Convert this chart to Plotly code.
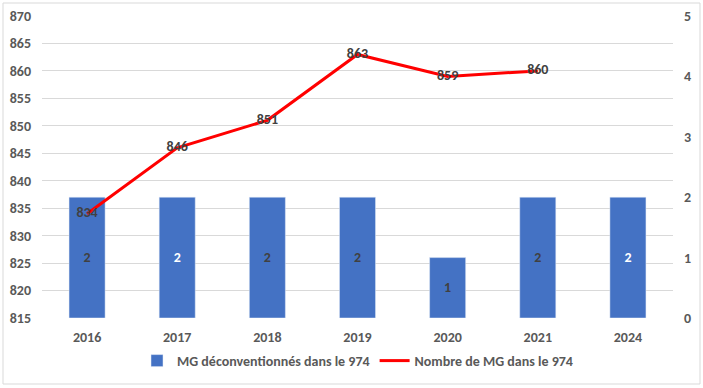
import plotly.graph_objects as go

years = ["2016", "2017", "2018", "2019", "2020", "2021", "2024"]
mg_deconv = [2, 2, 2, 2, 1, 2, 2]
mg_total = [834, 846, 851, 863, 859, 860, None]
bar_label_colors = ["#404040", "#FFFFFF", "#404040", "#404040", "#404040", "#404040", "#FFFFFF"]

FONT = "Carlito, Lato, 'Liberation Sans', sans-serif"
GRAY = "#595959"

fig = go.Figure()
fig.add_trace(go.Bar(
    x=years, y=mg_deconv, name="MG déconventionnés dans le 974",
    marker_color="#4472C4", width=0.4, yaxis="y",
    text=[str(v) for v in mg_deconv], textposition="inside", insidetextanchor="middle",
    textfont=dict(color=bar_label_colors, size=14, family=FONT, weight="bold"),
    textangle=0,
))
fig.add_trace(go.Scatter(
    x=years, y=mg_total, name="Nombre de MG dans le 974",
    mode="lines+text", line=dict(color="#FF0000", width=3), yaxis="y2",
    text=[str(v) if v is not None else "" for v in mg_total], textposition="middle center",
    textfont=dict(color="#404040", size=14, family=FONT, weight="bold"),
))

W, H = 703, 388
l, r, t, b = 42, 30, 16, 70
pw, ph = W - l - r, H - t - b

def px(x):
    return (x - l) / pw

def py(y):
    return (H - b - y) / ph

tf = dict(size=14, color=GRAY, family=FONT, weight="bold")

fig.update_layout(
    width=W, height=H,
    margin=dict(l=l, r=r, t=t, b=b, autoexpand=False),
    paper_bgcolor="white", plot_bgcolor="white",
    font=dict(family=FONT, color=GRAY, size=14),
    bargap=0.6,
    xaxis=dict(type="category", showgrid=False, showline=False, ticks="",
               automargin=False, tickfont=tf, ticklabelstandoff=9),
    yaxis=dict(side="right", range=[0, 5], dtick=1, showgrid=False, zeroline=False,
               showline=False, ticks="", ticklabelstandoff=10, automargin=False,
               tickfont=tf),
    yaxis2=dict(side="left", overlaying="y", range=[815, 870], dtick=5,
                showgrid=True, gridcolor="#D9D9D9", gridwidth=1, zeroline=False,
                showline=False, ticks="", ticklabelstandoff=10, automargin=False,
                tickfont=tf),
    legend=dict(orientation="h", x=0.5, xanchor="center", y=py(361), yanchor="middle",
                font=tf, itemwidth=30, tracegroupgap=0),
    showlegend=True,
    shapes=[dict(type="rect", xref="paper", yref="paper",
                 x0=px(3), x1=px(700), y0=py(384), y1=py(3),
                 line=dict(color="#D9D9D9", width=1), fillcolor="rgba(0,0,0,0)", layer="below")],
)

fig.write_html("out.html", config={"displayModeBar": False},
               post_script="document.body.style.margin='0';document.body.style.overflow='hidden';")
